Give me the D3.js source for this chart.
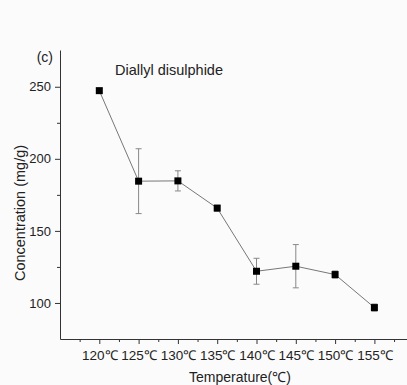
<!DOCTYPE html>
<html>
<head>
<meta charset="utf-8">
<script src="https://cdn.jsdelivr.net/npm/d3@7.9.0/dist/d3.min.js"></script>
<style>
  body { margin: 0; background: #fbfbfb; }
  svg { display: block; font-family: "Liberation Sans", Arial, sans-serif; }
</style>
</head>
<body>
<div id="chart"></div>
<script>
const temps = [120, 125, 130, 135, 140, 145, 150, 155];
const concentration = [247.3, 184.5, 184.7, 165.8, 122, 125.5, 119.7, 96.8];
const errors = [1.5, 22.5, 7, 2, 9, 15, 2.5, 2.5];
const yTicks = [100, 150, 200, 250];

const width = 407;
const height = 385;

const svg = d3.select('#chart')
  .append('svg')
  .attr('width', width)
  .attr('height', height);

const x = d3.scaleLinear().domain([115, 160]).range([60, 413.7]);
const y = d3.scaleLinear().domain([75, 275.5]).range([339, 50]);

// y axis
const gy = svg.append('g')
  .attr('transform', 'translate(60,0)')
  .call(d3.axisLeft(y).tickValues(yTicks).tickSize(5).tickPadding(4).tickSizeOuter(0));
gy.select('.domain').attr('stroke', '#333');
gy.selectAll('.tick line').attr('stroke', '#333');
gy.selectAll('.tick text').attr('font-size', 13).attr('fill', '#222');

svg.append('g')
  .attr('transform', 'translate(60,0)')
  .call(d3.axisLeft(y).tickValues([125, 175, 225]).tickSize(3).tickFormat('').tickSizeOuter(0))
  .call(g => g.selectAll('line').attr('stroke', '#333'))
  .call(g => g.select('.domain').remove());

// x axis
const gx = svg.append('g')
  .attr('transform', 'translate(0,339)')
  .call(d3.axisBottom(x)
    .tickValues(temps)
    .tickSize(5)
    .tickSizeOuter(0)
    .tickFormat(d => d + '℃'));
gx.select('.domain').attr('stroke', '#333');
gx.selectAll('.tick line').attr('stroke', '#333');
gx.selectAll('.tick text')
  .attr('font-size', 13.5)
  .attr('fill', '#222')
  .attr('y', 21)
  .attr('dy', 0);

const minorX = d3.range(117.5, 160, 5);
svg.append('g')
  .attr('transform', 'translate(0,339)')
  .call(d3.axisBottom(x).tickValues(minorX).tickSize(3).tickFormat(''))
  .call(g => g.selectAll('line').attr('stroke', '#333'))
  .call(g => g.select('.domain').remove());

// connecting line
const pts = temps.map((t, i) => ({ t, v: concentration[i], e: errors[i] }));
svg.append('path')
  .datum(pts)
  .attr('fill', 'none')
  .attr('stroke', '#777')
  .attr('stroke-width', 1)
  .attr('d', d3.line().x(d => x(d.t)).y(d => y(d.v)));

// error bars
const eb = svg.append('g').attr('stroke', '#888').attr('stroke-width', 1);
eb.selectAll('line.v')
  .data(pts)
  .join('line')
  .attr('class', 'v')
  .attr('x1', d => x(d.t)).attr('x2', d => x(d.t))
  .attr('y1', d => y(d.v - d.e)).attr('y2', d => y(d.v + d.e));
eb.selectAll('line.top')
  .data(pts)
  .join('line')
  .attr('class', 'top')
  .attr('x1', d => x(d.t) - 3).attr('x2', d => x(d.t) + 3)
  .attr('y1', d => y(d.v + d.e)).attr('y2', d => y(d.v + d.e));
eb.selectAll('line.bot')
  .data(pts)
  .join('line')
  .attr('class', 'bot')
  .attr('x1', d => x(d.t) - 3).attr('x2', d => x(d.t) + 3)
  .attr('y1', d => y(d.v - d.e)).attr('y2', d => y(d.v - d.e));

// markers
svg.append('g')
  .selectAll('rect')
  .data(pts)
  .join('rect')
  .attr('x', d => x(d.t) - 3.5)
  .attr('y', d => y(d.v) - 3.5)
  .attr('width', 7)
  .attr('height', 7)
  .attr('fill', '#000');

// labels
svg.append('text')
  .attr('x', 53).attr('y', 62)
  .attr('text-anchor', 'end')
  .attr('font-size', 14)
  .attr('fill', '#222')
  .text('(c)');

svg.append('text')
  .attr('x', 115).attr('y', 75)
  .attr('font-size', 14.5)
  .attr('fill', '#222')
  .text('Diallyl disulphide');

svg.append('text')
  .attr('transform', 'translate(25,213) rotate(-90)')
  .attr('text-anchor', 'middle')
  .attr('font-size', 14.5)
  .attr('fill', '#222')
  .text('Concentration (mg/g)');

svg.append('text')
  .attr('x', 240).attr('y', 382)
  .attr('text-anchor', 'middle')
  .attr('font-size', 14)
  .attr('fill', '#222')
  .text('Temperature(℃)');
</script>
</body>
</html>
